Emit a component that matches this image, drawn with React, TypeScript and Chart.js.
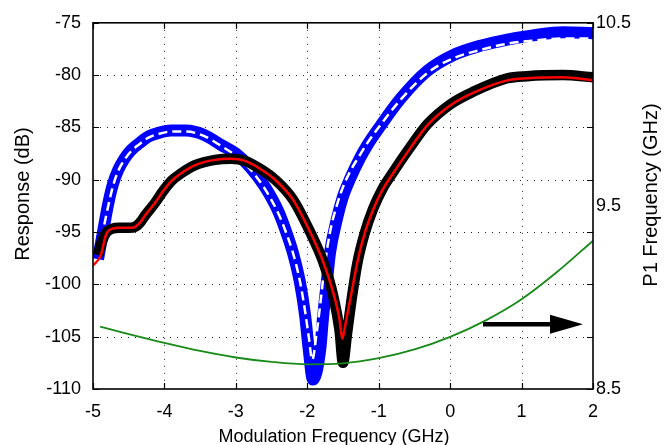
import React, { useEffect, useRef } from "react";
import { Chart, registerables } from "chart.js";

Chart.register(...registerables);

// ---- data ----
const blueX = [-4.93, -4.86, -4.79, -4.72, -4.65, -4.56, -4.47, -4.35, -4.23, -4.07, -3.91, -3.7, -3.45, -3.2, -3.0, -2.8, -2.6, -2.4, -2.3, -2.2, -2.1, -2.03, -1.98, -1.92, -1.82, -1.78, -1.73, -1.68, -1.58, -1.5, -1.4, -1.26, -1.16, -0.98, -0.7, -0.32, 0.04, 0.42, 0.8, 1.16, 1.58, 2.0];
const blueY = [-97.6, -95.0, -92.4, -90.4, -89.1, -88.0, -87.2, -86.5, -85.9, -85.5, -85.3, -85.3, -85.7, -86.7, -87.5, -88.8, -90.6, -93.1, -94.9, -97.0, -99.9, -103.0, -106.2, -109.1, -106.3, -103.2, -100.0, -96.9, -93.6, -91.6, -89.9, -87.9, -86.7, -84.9, -82.3, -79.6, -78.1, -77.2, -76.6, -76.2, -75.9, -76.0];

const whiteX = [-4.88, -4.79, -4.72, -4.65, -4.56, -4.47, -4.35, -4.23, -4.07, -3.91, -3.7, -3.45, -3.2, -3.0, -2.8, -2.6, -2.4, -2.3, -2.2, -2.1, -2.03, -1.98, -1.93, -1.87, -1.82, -1.77, -1.72, -1.66, -1.58, -1.5, -1.4, -1.26, -1.16, -0.98, -0.7, -0.32, 0.04, 0.42, 0.8, 1.16, 1.58, 2.0];
const whiteY = [-95.6, -92.6, -90.6, -89.2, -88.1, -87.3, -86.6, -86.0, -85.6, -85.4, -85.4, -85.8, -86.8, -87.7, -89.0, -90.8, -93.3, -95.0, -97.0, -99.8, -102.6, -105.0, -107.2, -104.7, -102.0, -99.0, -96.5, -94.3, -92.3, -90.7, -89.2, -87.6, -86.5, -84.8, -82.4, -79.8, -78.4, -77.6, -77.0, -76.7, -76.5, -76.5];

const blackX = [-4.93, -4.88, -4.82, -4.74, -4.62, -4.5, -4.41, -4.33, -4.27, -4.13, -4.02, -3.9, -3.77, -3.57, -3.29, -3.07, -2.87, -2.65, -2.45, -2.2, -1.96, -1.78, -1.64, -1.55, -1.5, -1.44, -1.37, -1.3, -1.2, -1.08, -0.95, -0.8, -0.56, -0.32, 0.0, 0.32, 0.8, 1.08, 1.58, 2.0];
const blackY = [-97.2, -96.0, -95.1, -94.7, -94.6, -94.6, -94.5, -94.0, -93.4, -92.2, -91.1, -90.1, -89.4, -88.6, -88.1, -88.0, -88.2, -89.0, -90.0, -91.9, -95.0, -97.8, -101.0, -104.3, -107.5, -104.5, -101.0, -98.0, -95.2, -92.8, -90.9, -89.3, -86.9, -84.7, -82.8, -81.6, -80.3, -80.1, -80.0, -80.2];

const redX = [-5.0, -4.89, -4.82, -4.74, -4.62, -4.5, -4.41, -4.33, -4.27, -4.13, -4.02, -3.9, -3.77, -3.57, -3.29, -3.07, -2.87, -2.65, -2.45, -2.2, -1.96, -1.78, -1.64, -1.55, -1.51, -1.46, -1.37, -1.3, -1.2, -1.08, -0.95, -0.8, -0.56, -0.32, 0.0, 0.32, 0.8, 1.08, 1.58, 2.0];
const redY = [-98.2, -97.2, -95.3, -94.7, -94.6, -94.6, -94.5, -94.0, -93.4, -92.2, -91.1, -90.1, -89.4, -88.6, -88.1, -88.0, -88.2, -89.0, -90.0, -91.9, -95.0, -97.8, -100.7, -103.3, -105.2, -103.6, -100.4, -97.9, -95.2, -92.9, -91.0, -89.4, -87.0, -84.8, -82.9, -81.7, -80.5, -80.3, -80.2, -80.5];

const greenX = [-4.9, -4.5, -4.0, -3.5, -3.0, -2.5, -2.0, -1.5, -1.0, -0.5, 0.0, 0.5, 1.0, 1.5, 2.0];
const greenY = [8.84, 8.8, 8.752, 8.708, 8.672, 8.648, 8.635, 8.64, 8.668, 8.716, 8.785, 8.875, 8.99, 9.14, 9.31];

const xTicks = [-5, -4, -3, -2, -1, 0, 1, 2];
const yTicks = [-110, -105, -100, -95, -90, -85, -80, -75];
const y2Ticks = [8.5, 9.5, 10.5];

const xTitle = "Modulation Frequency (GHz)";
const yTitle = "Response (dB)";
const y2Title = "P1 Frequency (GHz)";

const arrowX = [0.46, 1.86];
const arrowY = -103.8;

const FONT = '"Liberation Sans", Arial, Helvetica, sans-serif';

const pts = (xs: number[], ys: number[]) => xs.map((x, i) => ({ x, y: ys[i] }));

const framePlugin = {
  id: "framePlugin",
  beforeDatasetsDraw(chart: any) {
    const { ctx, chartArea: a, scales } = chart;
    const xs = scales.x;
    const ys = scales.y;
    ctx.save();
    ctx.strokeStyle = "#222";
    ctx.lineWidth = 1;
    ctx.setLineDash([1, 6]);
    xTicks.forEach((v) => {
      const px = Math.round(xs.getPixelForValue(v)) + 0.5;
      if (px <= a.left + 1 || px >= a.right - 1) return;
      ctx.beginPath();
      ctx.moveTo(px, a.top);
      ctx.lineTo(px, a.bottom);
      ctx.stroke();
    });
    yTicks.forEach((v) => {
      const py = Math.round(ys.getPixelForValue(v)) + 0.5;
      if (py <= a.top + 1 || py >= a.bottom - 1) return;
      ctx.beginPath();
      ctx.moveTo(a.left, py);
      ctx.lineTo(a.right, py);
      ctx.stroke();
    });
    ctx.restore();
  },
  afterDatasetsDraw(chart: any) {
    const { ctx, chartArea: a, scales } = chart;
    const xs = scales.x;
    const ys = scales.y;
    ctx.save();
    ctx.setLineDash([]);
    ctx.strokeStyle = "#000";
    ctx.lineWidth = 1.2;
    const tl = 6;
    xTicks.forEach((v) => {
      const px = Math.round(xs.getPixelForValue(v)) + 0.5;
      ctx.beginPath();
      ctx.moveTo(px, a.bottom);
      ctx.lineTo(px, a.bottom - tl);
      ctx.moveTo(px, a.top);
      ctx.lineTo(px, a.top + tl);
      ctx.stroke();
    });
    yTicks.forEach((v) => {
      const py = Math.round(ys.getPixelForValue(v)) + 0.5;
      ctx.beginPath();
      ctx.moveTo(a.left, py);
      ctx.lineTo(a.left + tl, py);
      ctx.moveTo(a.right, py);
      ctx.lineTo(a.right - tl, py);
      ctx.stroke();
    });
    ctx.lineWidth = 1.6;
    ctx.strokeRect(a.left, a.top, a.right - a.left, a.bottom - a.top);

    // arrow
    const x0 = xs.getPixelForValue(arrowX[0]);
    const x1 = xs.getPixelForValue(arrowX[1]);
    const y = ys.getPixelForValue(arrowY);
    const headL = 33;
    const headH = 9.5;
    ctx.fillStyle = "#000";
    ctx.lineWidth = 4.5;
    ctx.beginPath();
    ctx.moveTo(x0, y);
    ctx.lineTo(x1 - headL + 2, y);
    ctx.stroke();
    ctx.beginPath();
    ctx.moveTo(x1 - headL, y - headH);
    ctx.lineTo(x1, y);
    ctx.lineTo(x1 - headL, y + headH);
    ctx.closePath();
    ctx.fill();

    // titles
    ctx.fillStyle = "#000";
    ctx.textAlign = "center";
    ctx.textBaseline = "middle";
    ctx.font = `18px ${FONT}`;
    ctx.fillText(xTitle, 334, 437);
    ctx.font = `20px ${FONT}`;
    ctx.save();
    ctx.translate(23, 194);
    ctx.rotate(-Math.PI / 2);
    ctx.fillText(yTitle, 0, 0);
    ctx.restore();
    ctx.save();
    ctx.translate(651, 195);
    ctx.rotate(-Math.PI / 2);
    ctx.fillText(y2Title, 0, 0);
    ctx.restore();
    ctx.restore();
  },
};

export default function App() {
  const ref = useRef<HTMLCanvasElement | null>(null);
  useEffect(() => {
    if (!ref.current) return;
    const tickFont = { family: FONT, size: 18 };
    const chart = new Chart(ref.current, {
      type: "line",
      data: {
        datasets: [
          {
            label: "P1 frequency",
            data: pts(greenX, greenY),
            yAxisID: "y2",
            borderColor: "#178a17",
            borderWidth: 1.8,
            pointRadius: 0,
            cubicInterpolationMode: "monotone",
            order: 0,
          },
          {
            label: "model",
            data: pts(redX, redY),
            borderColor: "#ff0000",
            borderWidth: 2.5,
            pointRadius: 0,
            cubicInterpolationMode: "monotone",
            borderJoinStyle: "round",
            order: 1,
          },
          {
            label: "measured",
            data: pts(blackX, blackY),
            borderColor: "#000000",
            borderWidth: 10.5,
            pointRadius: 0,
            cubicInterpolationMode: "monotone",
            borderJoinStyle: "round",
            borderCapStyle: "butt",
            order: 2,
          },
          {
            label: "model 2",
            data: pts(whiteX, whiteY),
            borderColor: "#ffffff",
            borderWidth: 2.5,
            borderDash: [9, 5],
            pointRadius: 0,
            cubicInterpolationMode: "monotone",
            borderJoinStyle: "round",
            order: 3,
          },
          {
            label: "measured 2",
            data: pts(blueX, blueY),
            borderColor: "#0000ff",
            borderWidth: 12,
            pointRadius: 0,
            cubicInterpolationMode: "monotone",
            borderJoinStyle: "round",
            borderCapStyle: "butt",
            order: 4,
          },
        ],
      },
      options: {
        responsive: false,
        animation: false,
        events: [],
        layout: { padding: { top: 17, left: 0, right: 0, bottom: 0 } },
        plugins: { legend: { display: false }, tooltip: { enabled: false }, title: { display: false } },
        scales: {
          x: {
            type: "linear",
            min: -5,
            max: 2,
            grid: { display: false, drawTicks: false },
            border: { display: false },
            afterBuildTicks: (s: any) => {
              s.ticks = xTicks.map((v) => ({ value: v }));
            },
            afterFit: (s: any) => {
              s.height = 56;
            },
            ticks: {
              color: "#000",
              font: tickFont,
              padding: 12,
              autoSkip: false,
              maxRotation: 0,
              callback: (v: any) => String(v),
            },
          },
          y: {
            type: "linear",
            position: "left",
            min: -110,
            max: -75,
            grid: { display: false, drawTicks: false },
            border: { display: false },
            afterBuildTicks: (s: any) => {
              s.ticks = yTicks.map((v) => ({ value: v }));
            },
            afterFit: (s: any) => {
              s.width = 93;
            },
            ticks: {
              color: "#000",
              font: tickFont,
              padding: 12,
              autoSkip: false,
              callback: (v: any) => String(v),
            },
          },
          y2: {
            type: "linear",
            position: "right",
            min: 8.5,
            max: 10.5,
            grid: { display: false, drawTicks: false },
            border: { display: false },
            afterBuildTicks: (s: any) => {
              s.ticks = y2Ticks.map((v) => ({ value: v }));
            },
            afterFit: (s: any) => {
              s.width = 71;
            },
            ticks: {
              color: "#000",
              font: tickFont,
              padding: 3,
              autoSkip: false,
              callback: (v: any) => String(v),
            },
          },
        },
      },
      plugins: [framePlugin],
    } as any);
    return () => chart.destroy();
  }, []);
  return (
    <div style={{ position: "absolute", left: 0, top: 0, width: 664, height: 445, background: "#fff" }}>
      <canvas ref={ref} width={664} height={445} style={{ display: "block", width: 664, height: 445 }} />
    </div>
  );
}
